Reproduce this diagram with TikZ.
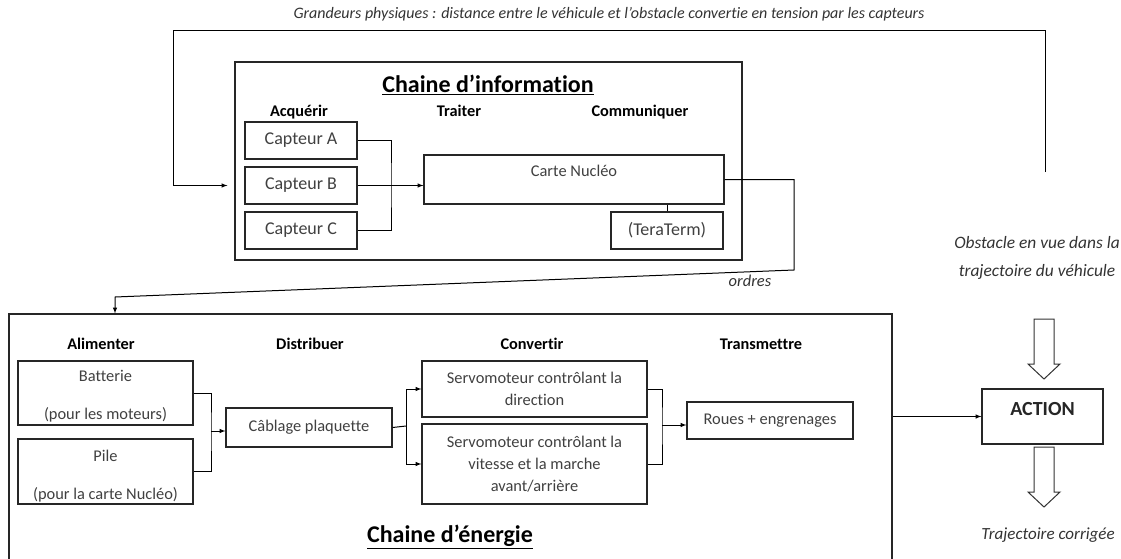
\documentclass[tikz,border=0pt]{standalone}
\usepackage{fontspec}
\setmainfont{Carlito}[Ligatures=NoCommon]
\usetikzlibrary{positioning}

\tikzset{
  boite/.style={draw=black!85,line width=1.2pt,inner sep=0pt,align=center,
    text=black!75,font=\fontsize{16.4}{22}\selectfont},
  capteur/.style={boite,font=\fontsize{18}{22}\selectfont},
  texte/.style={inner sep=0pt,align=center,text=black!75,font=\fontsize{16.4}{22}\selectfont},
  entete/.style={inner sep=0pt,anchor=base,font=\bfseries\fontsize{16.3}{19}\selectfont},
  titre/.style={inner sep=0pt,font=\bfseries\fontsize{24}{28}\selectfont},
  note/.style={inner sep=0pt,align=center,text=black!80,font=\itshape\fontsize{17.4}{28}\selectfont},
}

\begin{document}
\begin{tikzpicture}[x=1pt,y=-1pt,>=latex,line width=1pt]
\useasboundingbox (0,0) rectangle (1121,559);
\clip (0,0) rectangle (1121,559);

% chaine d'information
\node[boite,minimum width=507pt,minimum height=198pt] (info) at (488.5,161) {};
\node[titre] (infoTitre) at (488,85) {\underline{Chaine d’information}};
\node[entete] (acquerir) at (299,117) {Acquérir};
\node[entete] (traiter) at (459,117) {Traiter};
\node[entete] (communiquer) at (640,117) {Communiquer};

\node[capteur,minimum width=112pt,minimum height=37pt] (capA) at (301,140.5) {Capteur A};
\node[capteur,minimum width=112pt,minimum height=37pt] (capB) at (301,185.5) {Capteur B};
\node[capteur,minimum width=112pt,minimum height=37pt] (capC) at (301,230.5) {Capteur C};
\node[boite,minimum width=300pt,minimum height=49pt] (nucleo) at (574,179.5) {};
\node[texte,below=10pt of nucleo.north] (nucleoTxt) {Carte Nucléo};
\node[capteur,minimum width=112pt,minimum height=37pt] (tera) at (667,230.5) {(TeraTerm)};

\coordinate (busInfo) at (391,185);
\draw (capA.east) -| (busInfo) |- (capC.east);
\draw[->] (capB.east) -- (capB.east -| nucleo.west);
\draw (tera.north) -- (tera.north |- nucleo.south);

% retour capteurs
\coordinate (retourD) at (1045,172);
\coordinate (retourG) at (173,31);
\draw[->,shorten >=7pt] (retourD) |- (retourG) |- (info.west |- capB.west);
\node[note,font=\itshape\fontsize{16}{19}\selectfont] (grandeurs) at (609,14)
  {Grandeurs physiques : distance entre le véhicule et l’obstacle convertie en tension par les capteurs};

% ordres
\coordinate (ordresA) at (794,270);
\coordinate (ordresB) at (115,297);
\node[boite,minimum width=883pt,minimum height=256pt] (energie) at (450.5,442) {};
\draw[->] (nucleo.east) -| (ordresA) -- (ordresB) -- (ordresB |- energie.north);
\node[note,font=\itshape\fontsize{16.5}{19}\selectfont] (ordres) at (750,281) {ordres};

% chaine d'energie
\node[titre] (energieTitre) at (450,537) {\underline{Chaine d’énergie}};
\node[entete] (alimenter) at (101,349) {Alimenter};
\node[entete] (distribuer) at (310,349) {Distribuer};
\node[entete] (convertir) at (532,349) {Convertir};
\node[entete] (transmettre) at (761,349) {Transmettre};

\node[boite,minimum width=175pt,minimum height=64pt] (batt) at (105.5,393) {};
\node[texte] (battTxt) at (105.5,396) {Batterie\\[16pt](pour les moteurs)};
\node[boite,minimum width=175pt,minimum height=65pt] (pile) at (105.5,471.5) {};
\node[texte] (pileTxt) at (105.5,476) {Pile\\[16pt](pour la carte Nucléo)};
\node[boite,minimum width=166pt,minimum height=39pt] (cablage) at (309,427.5) {Câblage plaquette};
\node[boite,minimum width=225pt,minimum height=56pt] (servoA) at (534.5,389)
  {Servomoteur contrôlant la\\direction};
\node[boite,minimum width=225pt,minimum height=80pt] (servoB) at (534.5,464)
  {Servomoteur contrôlant la\\vitesse et la marche\\avant/arrière};
\node[boite,minimum width=166pt,minimum height=37pt] (roues) at (770,420.5) {Roues + engrenages};

\coordinate (busAlim) at (211,431);
\draw (batt.east) -| (busAlim) |- (pile.east);
\draw[->] (busAlim) -- (busAlim -| cablage.west);
\coordinate (busDist) at (406,426);
\draw (cablage.east) -- (busDist);
\draw[->] (busDist) |- (servoA.west);
\draw[->] (busDist) |- (servoB.west);
\coordinate (busConv) at (662,425);
\draw (servoA.east) -| (busConv) |- (servoB.east);
\draw[->] (busConv) -- (busConv -| roues.west);

% action
\node[boite,minimum width=121pt,minimum height=55pt] (action) at (1042.5,416.5) {};
\node[titre,font=\bfseries\fontsize{20}{24}\selectfont,text=black!85,below=13pt of action.north] (actionTxt) {ACTION};
\draw[->] (energie.east |- action.west) -- (action.west);

\foreach \y in {319,447}
  \draw[black!80] (1034,\y) -- (1054,\y) -- (1054,\y+45) -- (1060,\y+45)
    -- (1044,\y+60) -- (1028,\y+45) -- (1034,\y+45) -- cycle;

\node[note] (obstacle) at (1037,258) {Obstacle en vue dans la\\trajectoire du véhicule};
\node[note,font=\itshape\fontsize{17}{20}\selectfont] (corrigee) at (1048,535) {Trajectoire corrigée};
\end{tikzpicture}
\end{document}
